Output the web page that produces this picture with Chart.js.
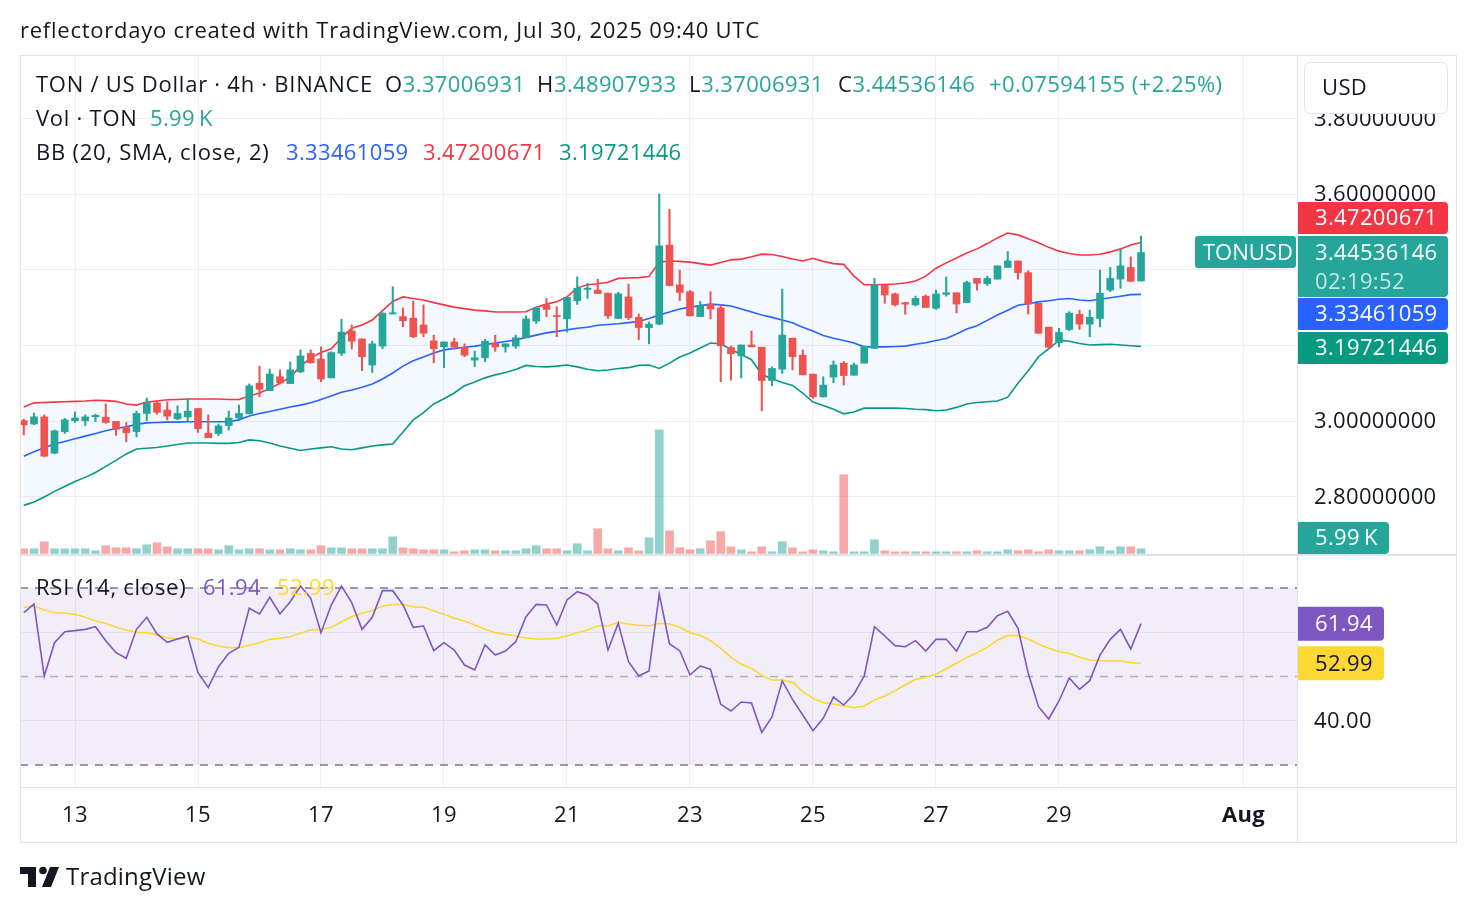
<!DOCTYPE html>
<html><head><meta charset="utf-8">
<script src="https://cdn.jsdelivr.net/npm/chart.js@4.4.1/dist/chart.umd.min.js"></script>
<style>html,body{margin:0;padding:0;background:#fff;}#wrap{position:relative;width:1476px;height:912px;}canvas{display:block;}</style>
</head><body><div id="wrap"><canvas id="c" width="1476" height="912"></canvas></div>
<script>
// ---- data (4h candles, Jul 12 04:00 -> Jul 30 08:00 UTC) ----
const opens = [
3.001,2.992,3.011,2.915,2.972,3.001,3.001,3.011,3.010,2.999,
2.983,2.972,3.020,3.048,3.029,3.006,3.011,3.033,2.968,2.967,
2.988,3.008,3.019,3.100,3.080,3.117,3.099,3.130,3.179,3.164,
3.114,3.179,3.238,3.217,3.148,3.198,3.283,3.276,3.272,3.254,
3.212,3.196,3.209,3.195,3.161,3.167,3.205,3.196,3.198,3.220,
3.264,3.307,3.278,3.270,3.318,3.348,3.346,3.338,3.271,3.328,
3.274,3.247,3.256,3.465,3.360,3.342,3.276,3.308,3.299,3.194,
3.172,3.201,3.195,3.107,3.137,3.219,3.174,3.124,3.064,3.116,
3.153,3.121,3.153,3.192,3.358,3.336,3.313,3.307,3.330,3.298,
3.335,3.339,3.313,3.377,3.363,3.375,3.406,3.423,3.392,3.311,
3.248,3.207,3.242,3.282,3.256,3.271,3.346,3.375,3.406,3.37006931];
const highs = [
3.005,3.021,3.016,2.976,3.007,3.024,3.016,3.018,3.045,2.999,
2.996,3.026,3.061,3.054,3.051,3.040,3.060,3.033,3.016,2.992,
3.026,3.042,3.098,3.145,3.137,3.135,3.156,3.188,3.188,3.196,
3.183,3.269,3.254,3.217,3.211,3.286,3.355,3.299,3.317,3.307,
3.227,3.209,3.219,3.204,3.185,3.216,3.227,3.204,3.227,3.278,
3.299,3.324,3.302,3.327,3.381,3.364,3.375,3.338,3.340,3.362,
3.283,3.262,3.600,3.560,3.399,3.345,3.316,3.342,3.308,3.198,
3.201,3.238,3.195,3.143,3.349,3.219,3.188,3.124,3.117,3.159,
3.157,3.153,3.198,3.377,3.358,3.338,3.313,3.330,3.333,3.346,
3.381,3.339,3.370,3.377,3.383,3.410,3.448,3.423,3.397,3.311,
3.248,3.245,3.289,3.293,3.293,3.399,3.406,3.454,3.434,3.48907933];
const lows = [
2.963,2.990,2.905,2.913,2.967,2.996,2.988,2.998,2.994,2.962,
2.945,2.958,3.001,3.018,3.003,3.003,3.001,2.970,2.956,2.961,
2.976,3.006,3.019,3.064,3.080,3.098,3.099,3.128,3.153,3.104,
3.114,3.173,3.190,3.133,3.128,3.191,3.283,3.249,3.220,3.223,
3.154,3.141,3.190,3.170,3.144,3.157,3.184,3.182,3.192,3.220,
3.258,3.276,3.223,3.235,3.308,3.324,3.337,3.271,3.271,3.268,
3.215,3.204,3.254,3.358,3.318,3.278,3.276,3.270,3.104,3.108,
3.114,3.196,3.027,3.093,3.126,3.135,3.122,3.060,3.063,3.101,
3.095,3.121,3.153,3.192,3.311,3.304,3.282,3.304,3.300,3.295,
3.330,3.286,3.313,3.346,3.358,3.375,3.406,3.375,3.283,3.232,
3.192,3.196,3.239,3.242,3.223,3.249,3.342,3.351,3.368,3.37006931];
const closes = [
2.990,3.011,2.907,2.974,3.003,3.008,3.011,3.015,2.996,2.978,
2.969,3.020,3.048,3.023,3.013,3.020,3.026,2.980,2.956,2.987,
3.008,3.020,3.093,3.084,3.124,3.101,3.135,3.172,3.154,3.111,
3.181,3.235,3.211,3.170,3.204,3.285,3.286,3.265,3.223,3.232,
3.191,3.209,3.196,3.174,3.167,3.211,3.196,3.204,3.220,3.270,
3.299,3.295,3.276,3.327,3.351,3.351,3.337,3.278,3.336,3.273,
3.247,3.256,3.463,3.358,3.340,3.278,3.305,3.296,3.199,3.178,
3.201,3.196,3.107,3.139,3.227,3.170,3.122,3.064,3.095,3.148,
3.120,3.148,3.198,3.360,3.333,3.307,3.309,3.324,3.300,3.336,
3.339,3.309,3.366,3.364,3.377,3.410,3.423,3.392,3.309,3.232,
3.195,3.234,3.285,3.256,3.274,3.338,3.377,3.410,3.36941991,3.44536146];
const volumes = [ // thousands of TON
6.1,6.1,15.2,6.1,6.1,6.1,6.1,3.5,10.0,7.4,
7.4,6.1,11.3,13.9,8.7,6.1,6.1,6.1,6.1,4.8,
10.0,4.8,6.1,6.1,4.8,4.8,6.1,4.8,4.8,10.0,
7.4,7.4,6.1,6.1,6.1,6.1,21.7,7.4,6.1,4.8,
4.8,4.8,2.2,3.5,4.8,4.8,3.5,3.5,3.5,6.1,
10.0,6.1,6.1,3.5,12.6,3.5,32.1,6.1,3.5,7.4,
3.5,20.4,160.8,29.5,7.4,4.8,6.1,16.5,28.2,8.7,
4.8,2.2,8.7,2.2,15.2,7.4,2.2,4.8,3.5,2.2,
102.3,2.2,2.2,17.8,3.5,2.2,2.2,2.2,2.2,2.2,
2.2,2.2,2.2,3.5,2.2,2.2,4.8,3.5,4.8,2.2,
4.8,3.5,3.5,3.5,4.8,8.7,3.5,8.7,8.7,5.99];
const bbUpper = [
3.037,3.048,3.049,3.050,3.051,3.052,3.053,3.055,3.054,3.052,
3.045,3.042,3.050,3.053,3.056,3.057,3.058,3.058,3.058,3.058,
3.057,3.057,3.066,3.074,3.086,3.100,3.116,3.145,3.167,3.181,
3.191,3.220,3.245,3.254,3.267,3.292,3.316,3.328,3.324,3.320,
3.313,3.307,3.301,3.297,3.293,3.291,3.288,3.288,3.288,3.289,
3.301,3.309,3.315,3.328,3.352,3.360,3.363,3.367,3.377,3.378,
3.379,3.382,3.420,3.423,3.422,3.420,3.416,3.412,3.419,3.426,
3.428,3.434,3.441,3.440,3.435,3.428,3.423,3.430,3.422,3.416,
3.414,3.383,3.360,3.360,3.361,3.362,3.365,3.370,3.383,3.404,
3.418,3.431,3.444,3.455,3.469,3.484,3.497,3.492,3.482,3.471,
3.459,3.449,3.443,3.439,3.439,3.441,3.447,3.455,3.465,3.47200671];
const bbBasis = [
2.907,2.919,2.929,2.939,2.946,2.953,2.960,2.967,2.974,2.980,
2.985,2.991,2.995,2.996,2.997,2.997,2.998,2.998,2.998,2.998,
2.998,3.003,3.013,3.020,3.025,3.031,3.037,3.042,3.048,3.057,
3.066,3.076,3.082,3.089,3.098,3.111,3.127,3.145,3.159,3.169,
3.180,3.188,3.192,3.195,3.198,3.202,3.206,3.210,3.214,3.221,
3.227,3.233,3.237,3.241,3.245,3.248,3.253,3.255,3.257,3.260,
3.263,3.271,3.280,3.288,3.296,3.301,3.305,3.309,3.307,3.304,
3.296,3.288,3.280,3.274,3.267,3.260,3.248,3.238,3.226,3.219,
3.213,3.206,3.196,3.196,3.196,3.197,3.198,3.203,3.207,3.213,
3.218,3.230,3.243,3.252,3.266,3.280,3.293,3.306,3.310,3.315,
3.318,3.322,3.324,3.320,3.318,3.322,3.326,3.330,3.334,3.33461059];
const bbLower = [
2.777,2.786,2.799,2.814,2.827,2.840,2.851,2.864,2.880,2.896,
2.913,2.926,2.928,2.930,2.934,2.938,2.942,2.942,2.942,2.941,
2.941,2.943,2.950,2.948,2.942,2.934,2.928,2.922,2.926,2.929,
2.932,2.926,2.924,2.929,2.934,2.937,2.939,2.971,3.003,3.022,
3.045,3.059,3.074,3.093,3.103,3.114,3.122,3.128,3.136,3.147,
3.144,3.143,3.145,3.148,3.143,3.137,3.133,3.135,3.139,3.141,
3.147,3.148,3.139,3.153,3.169,3.180,3.193,3.206,3.204,3.189,
3.176,3.162,3.123,3.112,3.102,3.094,3.074,3.050,3.041,3.031,
3.019,3.024,3.034,3.034,3.034,3.034,3.033,3.031,3.030,3.027,
3.029,3.036,3.045,3.049,3.051,3.053,3.063,3.100,3.133,3.170,
3.191,3.213,3.211,3.205,3.201,3.202,3.203,3.201,3.199,3.19721446];
const rsi = [
64.43,66.38,50.11,57.65,60.13,60.36,60.66,61.26,58.10,55.39,
54.11,60.66,63.37,59.61,57.72,58.48,59.15,50.87,47.55,52.22,
55.24,56.59,65.41,64.13,67.89,64.13,66.91,70.45,67.67,59.91,
66.16,70.45,66.69,60.66,63.37,69.40,69.40,66.16,61.11,61.41,
55.84,57.65,55.99,52.60,51.47,57.12,54.86,55.76,57.87,63.52,
66.31,66.16,61.64,67.29,69.17,68.42,66.38,55.99,62.02,53.35,
50.11,51.25,68.65,57.35,55.84,50.34,52.37,51.62,43.71,42.21,
44.24,44.01,37.38,40.85,48.99,44.84,41.30,37.76,40.55,45.37,
43.56,46.05,50.11,61.26,59.15,56.97,56.74,58.10,55.76,58.40,
58.40,55.76,60.13,60.13,61.11,63.75,64.73,60.89,50.72,43.18,
40.40,44.47,49.66,47.10,49.06,54.86,58.40,60.66,56.22,61.94];
const rsiMA = [
65.63,65.93,65.03,64.43,64.28,64.05,63.37,62.54,62.02,61.11,
60.51,59.98,59.91,59.38,58.78,58.40,59.00,58.48,57.50,56.89,
56.52,56.52,57.05,57.65,58.40,58.63,59.00,59.76,60.51,60.66,
61.11,62.39,63.52,64.28,64.88,65.93,66.24,66.31,65.78,65.63,
64.88,64.05,63.15,62.54,61.64,60.66,59.91,59.53,59.15,58.70,
58.48,58.48,58.63,59.15,59.91,60.51,61.41,61.41,62.24,61.87,
61.57,61.41,62.02,61.87,61.11,59.91,59.31,58.10,56.37,54.33,
52.75,51.85,50.19,49.21,49.21,48.68,46.57,45.07,44.09,43.79,
43.34,42.96,43.34,44.69,45.60,46.80,48.08,49.36,49.81,50.57,
51.77,52.98,54.33,55.39,56.59,58.25,59.23,59.23,58.48,57.35,
56.37,55.61,55.24,54.33,53.73,53.58,53.51,53.51,53.13,52.99];
const xTickIdx = [5,17,29,41,53,65,77,89,101,119];
const xTickLabels = ['13','15','17','19','21','23','25','27','29','Aug'];
const priceTicks = [2.8,3.0,3.2,3.4,3.6,3.8];
const rsiTicks = [40,60];
const rsiBands = [70,50,30];
const countdown = '02:19:52';

// ---- styling ----
const FONT = '"Open Sans", "Noto Sans", sans-serif';
const DARK = '#131722', UP = '#26a69a', DN = '#ef5350';
const BLUE = '#2962FF', RED = '#F23645', GREEN = '#089981', PURPLE = '#7E57C2', YELLOW = '#FDD835';
const GRID = '#eef0f4', FRAME = '#e0e3eb';
const TY = 1;
const WORD_SP = '0.75px', NUM_SP = '0.35px';
const n = closes.length;
const idx = closes.map((_, i) => i);
const isUp = i => closes[i] >= opens[i];
const pts = arr => arr.map((v, i) => ({x: i, y: v}));

function T(ctx, s, x, y, color, sp = WORD_SP, size = 22, weight = 'normal') {
  ctx.font = `${weight} ${size}px ${FONT}`;
  ctx.letterSpacing = sp;
  ctx.fillStyle = color; ctx.textAlign = 'left'; ctx.textBaseline = 'middle';
  ctx.fillText(s, x, y + TY);
  return ctx.measureText(s).width;
}
function box(ctx, x, y, w, h, color, r) {
  ctx.fillStyle = color; ctx.beginPath();
  ctx.roundRect(x, y, w, h, r); ctx.fill();
}

const decor = {
  id: 'decor',
  beforeDraw(chart) { chart.ctx.letterSpacing = NUM_SP; },
  beforeDatasetsDraw(chart) {
    const {ctx, chartArea: a, scales: {yRsi}} = chart;
    const y70 = yRsi.getPixelForValue(rsiBands[0]);
    const y50 = yRsi.getPixelForValue(rsiBands[1]);
    const y30 = yRsi.getPixelForValue(rsiBands[2]);
    ctx.save();
    ctx.fillStyle = 'rgba(126,87,194,0.1)';
    ctx.fillRect(a.left, y70, a.right - a.left, y30 - y70);
    ctx.setLineDash([8, 7]); ctx.lineWidth = 1.5;
    ctx.strokeStyle = '#787B86';
    [y70, y30].forEach(y => { ctx.beginPath(); ctx.moveTo(a.left, y); ctx.lineTo(a.right, y); ctx.stroke(); });
    ctx.strokeStyle = 'rgba(120,123,134,0.55)';
    ctx.beginPath(); ctx.moveTo(a.left, y50); ctx.lineTo(a.right, y50); ctx.stroke();
    ctx.restore();
  },
  afterDraw(chart) {
    const {ctx, chartArea: a, scales: {y, yRsi}} = chart;
    ctx.save();
    ctx.strokeStyle = FRAME; ctx.lineWidth = 1;
    ctx.strokeRect(20.5, 55.5, 1436, 787);
    const paneSep = y.bottom;
    ctx.beginPath(); ctx.moveTo(a.right + 0.5, 55); ctx.lineTo(a.right + 0.5, 842); ctx.stroke();
    ctx.beginPath(); ctx.moveTo(20, a.bottom + 0.5); ctx.lineTo(1456, a.bottom + 0.5); ctx.stroke();
    ctx.lineWidth = 2;
    ctx.beginPath(); ctx.moveTo(20, paneSep); ctx.lineTo(1456, paneSep); ctx.stroke();

    T(ctx, 'reflectordayo created with TradingView.com, Jul 30, 2025 09:40 UTC', 20, 31, DARK);
    const L = n - 1;
    T(ctx, 'TON / US Dollar · 4h · BINANCE', 36, 85, DARK);
    [['O', opens[L], 385], ['H', highs[L], 537], ['L', lows[L], 689], ['C', closes[L], 838]].forEach(([k, v, x]) => {
      const w = T(ctx, k, x, 85, DARK);
      T(ctx, v.toFixed(8), x + w, 85, UP, NUM_SP);
    });
    const chg = closes[L] - closes[L - 1];
    T(ctx, '+' + chg.toFixed(8) + ' (+' + (chg / closes[L - 1] * 100).toFixed(2) + '%)', 989, 85, UP, '0.45px');
    T(ctx, 'Vol · TON', 36, 119, DARK);
    T(ctx, volumes[L].toFixed(2) + '\u2009K', 150, 119, UP, NUM_SP);
    T(ctx, 'BB (20, SMA, close, 2)', 36, 153, DARK);
    T(ctx, bbBasis[L].toFixed(8), 286, 153, BLUE, NUM_SP);
    T(ctx, bbUpper[L].toFixed(8), 423, 153, RED, NUM_SP);
    T(ctx, bbLower[L].toFixed(8), 559, 153, GREEN, NUM_SP);
    T(ctx, 'RSI (14, close)', 36, 588, DARK);
    T(ctx, rsi[L].toFixed(2), 203, 588, PURPLE, NUM_SP);
    T(ctx, rsiMA[L].toFixed(2), 277, 588, YELLOW, NUM_SP);

    const AX = a.right + 1, BW = 150, TX = a.right + 18;
    ctx.fillStyle = '#fff'; ctx.strokeStyle = FRAME; ctx.lineWidth = 1;
    ctx.beginPath(); ctx.roundRect(1304.5, 62.5, 143, 51, 6); ctx.fill(); ctx.stroke();
    T(ctx, 'USD', 1322, 88, DARK, NUM_SP);

    const yc = y.getPixelForValue(closes[L]);
    const tealTop = Math.round(yc - 16.5), tealH = 61;
    box(ctx, AX, tealTop, BW, tealH, UP, [0, 4, 4, 0]);
    T(ctx, closes[L].toFixed(8), TX, tealTop + 17, '#fff', NUM_SP);
    T(ctx, countdown, TX, tealTop + 46, 'rgba(255,255,255,0.72)', NUM_SP);
    box(ctx, 1195, tealTop, 101, 32, UP, 3);
    T(ctx, 'TONUSD', 1203, tealTop + 17, '#fff', '0px');

    const redBottom = Math.min(y.getPixelForValue(bbUpper[L]) + 16, tealTop - 2);
    box(ctx, AX, redBottom - 32, BW, 32, RED, [0, 4, 4, 0]);
    T(ctx, bbUpper[L].toFixed(8), TX, redBottom - 16, '#fff', NUM_SP);
    const blueTop = Math.max(y.getPixelForValue(bbBasis[L]) - 16, tealTop + tealH + 1);
    box(ctx, AX, blueTop, BW, 32, BLUE, [0, 4, 4, 0]);
    T(ctx, bbBasis[L].toFixed(8), TX, blueTop + 16, '#fff', NUM_SP);
    const greenTop = Math.max(y.getPixelForValue(bbLower[L]) - 16, blueTop + 34);
    box(ctx, AX, greenTop, BW, 32, GREEN, [0, 4, 4, 0]);
    T(ctx, bbLower[L].toFixed(8), TX, greenTop + 16, '#fff', NUM_SP);

    box(ctx, AX, paneSep - 33, 91, 32, UP, [0, 4, 4, 0]);
    T(ctx, volumes[L].toFixed(2) + '\u2009K', TX, paneSep - 17, '#fff', NUM_SP);

    const yr = yRsi.getPixelForValue(rsi[L]);
    box(ctx, AX, yr - 17, 86, 34, PURPLE, [0, 4, 4, 0]);
    T(ctx, rsi[L].toFixed(2), TX, yr, '#fff', NUM_SP);
    const ym = Math.max(yRsi.getPixelForValue(rsiMA[L]), yr + 39);
    box(ctx, AX, ym - 17, 86, 34, YELLOW, [0, 4, 4, 0]);
    T(ctx, rsiMA[L].toFixed(2), TX, ym, DARK, NUM_SP);

    ctx.fillStyle = DARK;
    ctx.fillRect(20, 867, 16, 7);
    ctx.fillRect(28, 867, 8, 20);
    ctx.beginPath(); ctx.arc(43, 870.5, 3.8, 0, Math.PI * 2); ctx.fill();
    ctx.beginPath(); ctx.moveTo(50, 867); ctx.lineTo(59, 867); ctx.lineTo(51, 887); ctx.lineTo(42, 887); ctx.closePath(); ctx.fill();
    T(ctx, 'TradingView', 66, 877, DARK, '0.2px', 24, '500');
    ctx.restore();
  }
};

const gridCfg = {color: GRID, drawTicks: false, lineWidth: 1};
new Chart(document.getElementById('c'), {
  type: 'bar',
  data: {datasets: [
    {type: 'bar', label: 'body', data: idx.map(i => ({x: i, y: [opens[i], closes[i]]})), yAxisID: 'y',
     barThickness: 7, minBarLength: 1, grouped: false, borderWidth: 0,
     backgroundColor: c => isUp(c.dataIndex) ? UP : DN, order: 1},
    {type: 'bar', label: 'wick', data: idx.map(i => ({x: i, y: [lows[i], highs[i]]})), yAxisID: 'y',
     barThickness: 1.4, minBarLength: 1, grouped: false, borderWidth: 0,
     backgroundColor: c => isUp(c.dataIndex) ? UP : DN, order: 2},
    {type: 'line', label: 'BB basis', data: pts(bbBasis), yAxisID: 'y', borderColor: BLUE, borderWidth: 1.6,
     pointRadius: 0, tension: 0, fill: false, order: 3},
    {type: 'line', label: 'BB upper', data: pts(bbUpper), yAxisID: 'y', borderColor: RED, borderWidth: 1.6,
     pointRadius: 0, tension: 0, fill: '+1', backgroundColor: 'rgba(33,150,243,0.055)', order: 4},
    {type: 'line', label: 'BB lower', data: pts(bbLower), yAxisID: 'y', borderColor: GREEN, borderWidth: 1.6,
     pointRadius: 0, tension: 0, fill: false, order: 5},
    {type: 'line', label: 'RSI', data: pts(rsi), yAxisID: 'yRsi', borderColor: PURPLE, borderWidth: 1.6,
     pointRadius: 0, tension: 0, fill: false, order: 6},
    {type: 'line', label: 'RSI MA', data: pts(rsiMA), yAxisID: 'yRsi', borderColor: YELLOW, borderWidth: 1.6,
     pointRadius: 0, tension: 0, fill: false, order: 7},
    {type: 'bar', label: 'Vol', data: pts(volumes), yAxisID: 'yVol', barThickness: 8, grouped: false, borderWidth: 0,
     backgroundColor: c => isUp(c.dataIndex) ? 'rgba(38,166,154,0.5)' : 'rgba(239,83,80,0.5)', order: 10}
  ]},
  options: {
    responsive: false, animation: false, devicePixelRatio: 1,
    layout: {padding: {left: 20, top: 55, right: 20, bottom: 70}},
    plugins: {legend: {display: false}, tooltip: {enabled: false}},
    scales: {
      x: {type: 'linear', position: 'bottom', min: -0.366, max: 124.22, offset: false,
          afterBuildTicks: s => { s.ticks = xTickIdx.map(v => ({value: v})); },
          afterFit: s => { s.height = 55; },
          ticks: {callback: v => xTickLabels[xTickIdx.indexOf(v)], color: DARK, padding: 16,
                  maxRotation: 0, autoSkip: false,
                  font: c => ({family: FONT, size: 22, weight: (c.tick && xTickLabels[xTickIdx.indexOf(c.tick.value)] === 'Aug') ? 'bold' : 'normal'})},
          grid: Object.assign({offset: false}, gridCfg), border: {display: false}},
      y: {type: 'linear', position: 'right', stack: 'panes', stackWeight: 500, min: 2.6458, max: 3.9675,
          afterBuildTicks: s => { s.ticks = priceTicks.map(v => ({value: v})); },
          afterFit: s => { s.width = 159; },
          ticks: {callback: v => v.toFixed(8), color: DARK, padding: 17, labelOffset: 1, font: {family: FONT, size: 22}},
          grid: gridCfg, border: {display: false}},
      yRsi: {type: 'linear', position: 'right', stack: 'panes', stackWeight: 232, min: 25.03, max: 77.46,
          afterBuildTicks: s => { s.ticks = rsiTicks.map(v => ({value: v})); },
          afterFit: s => { s.width = 159; },
          ticks: {callback: v => v.toFixed(2), color: DARK, padding: 17, labelOffset: 1, font: {family: FONT, size: 22}},
          grid: gridCfg, border: {display: false}},
      yVol: {type: 'linear', position: 'right', display: false, min: -303.6, max: 648}
    }
  },
  plugins: [decor]
});
</script>
</body></html>
